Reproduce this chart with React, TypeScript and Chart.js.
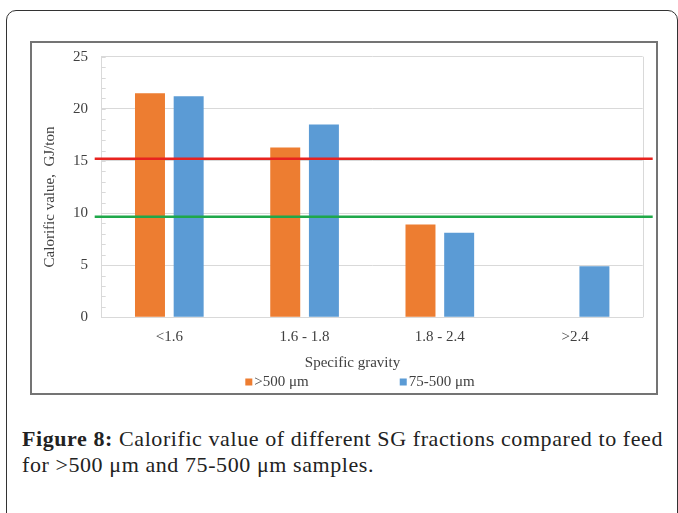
import React, { useEffect, useRef } from 'react';
import { Chart, registerables } from 'chart.js';

Chart.register(...registerables);

// ---- data ----
const categories = ['<1.6', '1.6 - 1.8', '1.8 - 2.4', '>2.4'];
const seriesNames = ['>500 μm', '75-500 μm'];
const valuesOver500: (number | null)[] = [21.5, 16.3, 8.9, null];
const values75to500: (number | null)[] = [21.2, 18.5, 8.1, 4.9];
const feedLineValues = [15.2, 9.65];
const yTickStep = 5;
const yMin = 0;
const yMax = 25;
const xAxisTitle = 'Specific gravity';
const yAxisTitle = 'Calorific value,  GJ/ton';

// ---- style ----
const FONT = '"Liberation Serif", "Times New Roman", serif';
const TEXT = '#404040';
const GRID = '#d9d9d9';
const seriesColors = ['#ED7D31', '#5B9BD5'];
const feedLineColors = ['#E8231F', '#1FA84A'];

const extrasPlugin = {
  id: 'extras',
  beforeDatasetsDraw(chart: any) {
    const { ctx, chartArea: a, scales } = chart;
    const y = scales.y;
    ctx.save();
    ctx.strokeStyle = GRID;
    ctx.lineWidth = 1;
    ctx.beginPath();
    const rx = Math.round(a.right) + 0.5;
    ctx.moveTo(rx, a.top);
    ctx.lineTo(rx, a.bottom);
    for (let v = y.min; v <= y.max; v += 1) {
      const py = Math.round(y.getPixelForValue(v)) + 0.5;
      ctx.moveTo(a.left, py);
      ctx.lineTo(a.left + 4, py);
    }
    ctx.stroke();
    ctx.restore();
  },
  afterDatasetsDraw(chart: any) {
    const { ctx, chartArea: a, scales } = chart;
    const y = scales.y;
    ctx.save();
    ctx.lineWidth = 2.5;
    feedLineValues.forEach((v, i) => {
      const py = y.getPixelForValue(v);
      ctx.strokeStyle = feedLineColors[i];
      ctx.beginPath();
      ctx.moveTo(a.left - 7, py);
      ctx.lineTo(a.right + 10, py);
      ctx.stroke();
    });
    ctx.restore();
  },
  afterDraw(chart: any) {
    const { ctx } = chart;
    ctx.save();
    ctx.fillStyle = TEXT;
    ctx.font = `15px ${FONT}`;
    // y-axis title
    ctx.save();
    ctx.translate(18, 154);
    ctx.rotate(-Math.PI / 2);
    ctx.textAlign = 'center';
    ctx.textBaseline = 'middle';
    ctx.fillText(yAxisTitle, 0, 0);
    ctx.restore();
    ctx.textBaseline = 'alphabetic';
    // x-axis title
    ctx.textAlign = 'center';
    ctx.fillText(xAxisTitle, 320.5, 323.6);
    // legend
    ctx.textAlign = 'left';
    const box = 7;
    const gapBoxText = 2;
    const itemGap = 91;
    const widths = seriesNames.map((n) => box + gapBoxText + ctx.measureText(n).width);
    const total = widths.reduce((s, w) => s + w, 0) + itemGap * (widths.length - 1);
    let x = 328 - total / 2;
    const base = 342.5;
    seriesNames.forEach((n, i) => {
      ctx.fillStyle = seriesColors[i];
      ctx.fillRect(x, base - box, box, box);
      ctx.fillStyle = TEXT;
      ctx.fillText(n, x + box + gapBoxText, base);
      x += widths[i] + itemGap;
    });
    ctx.restore();
  },
};

function ChartCanvas() {
  const ref = useRef<HTMLCanvasElement | null>(null);
  useEffect(() => {
    if (!ref.current) return;
    const chart = new Chart(ref.current, {
      type: 'bar',
      data: {
        labels: categories,
        datasets: [
          {
            label: seriesNames[0],
            data: valuesOver500,
            backgroundColor: seriesColors[0],
            categoryPercentage: 0.572,
            barPercentage: 0.775,
          },
          {
            label: seriesNames[1],
            data: values75to500,
            backgroundColor: seriesColors[1],
            categoryPercentage: 0.572,
            barPercentage: 0.775,
          },
        ],
      },
      options: {
        responsive: false,
        animation: false,
        events: [],
        layout: { padding: { left: 7, right: 13.3, top: 13.7, bottom: 0 } },
        plugins: {
          legend: { display: false },
          tooltip: { enabled: false },
        },
        scales: {
          x: {
            grid: { display: false },
            border: { display: true, color: GRID, width: 1 },
            ticks: { color: TEXT, font: { family: FONT, size: 15 }, padding: 3 },
            afterFit: (s: any) => {
              s.height = 75.7;
            },
          },
          y: {
            min: yMin,
            max: yMax,
            ticks: { stepSize: yTickStep, color: TEXT, font: { family: FONT, size: 15 }, padding: 0 },
            grid: {
              color: GRID,
              drawTicks: true,
              tickLength: 13.7,
              tickColor: 'rgba(0,0,0,0)',
              lineWidth: 1,
            },
            border: { display: true, color: GRID, width: 1 },
            afterFit: (s: any) => {
              s.width = 62.7;
            },
          },
        },
      },
      plugins: [extrasPlugin],
    });
    return () => chart.destroy();
  }, []);
  return (
    <canvas
      ref={ref}
      width={624}
      height={350}
      style={{ position: 'absolute', left: 32, top: 43, width: 624, height: 350 }}
    />
  );
}

export default function App() {
  return (
    <div
      style={{
        position: 'absolute',
        left: 0,
        top: 0,
        width: 678,
        height: 513,
        overflow: 'hidden',
        background: '#fff',
      }}
    >
      <div
        style={{
          position: 'absolute',
          left: 6,
          top: 10,
          width: 672,
          height: 600,
          boxSizing: 'border-box',
          border: '1.5px solid #333',
          borderRadius: 10,
        }}
      />
      <div
        style={{
          position: 'absolute',
          left: 30,
          top: 41,
          width: 628,
          height: 354,
          boxSizing: 'border-box',
          border: '2px solid #747474',
          background: '#fff',
        }}
      />
      <ChartCanvas />
      <div
        style={{
          position: 'absolute',
          left: 22,
          top: 425.5,
          width: 660,
          fontFamily: FONT,
          fontSize: 22,
          letterSpacing: '0.58px',
          lineHeight: '26px',
          color: '#222',
          whiteSpace: 'nowrap',
        }}
      >
        <div>
          <b>Figure 8:</b> Calorific value of different SG fractions compared to feed
        </div>
        <div>for &gt;500 μm and 75-500 μm samples.</div>
      </div>
    </div>
  );
}
